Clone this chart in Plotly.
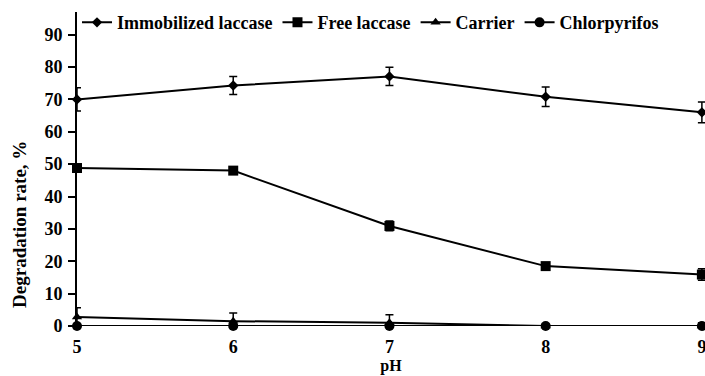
import plotly.graph_objects as go

ph = [5, 6, 7, 8, 9]
immobilized = [70.0, 74.3, 77.1, 70.8, 66.0]
immobilized_err = [3.6, 2.8, 2.8, 3.0, 3.2]
free = [48.8, 48.0, 30.9, 18.5, 15.9]
free_err = [1.2, 1.0, 1.5, 1.0, 1.8]
carrier = [2.8, 1.5, 1.0, 0.0, 0.0]
carrier_err = [2.8, 2.5, 2.5, 0.6, 1.0]
chlorpyrifos = [0.0, 0.0, 0.0, 0.0, 0.0]
chlorpyrifos_err = [0.3, 0.3, 0.3, 0.3, 0.3]

series = [
    ("Immobilized laccase", immobilized, immobilized_err, "diamond", 8),
    ("Free laccase", free, free_err, "square", 10),
    ("Carrier", carrier, carrier_err, "triangle-up", 9),
    ("Chlorpyrifos", chlorpyrifos, chlorpyrifos_err, "circle", 10),
]

fig = go.Figure()
for name, vals, err, sym, size in series:
    fig.add_trace(go.Scatter(
        x=ph, y=vals, name=f"<b>{name}</b>", mode="lines+markers",
        line=dict(color="black", width=2),
        marker=dict(symbol=sym, size=size, color="black"),
        error_y=dict(type="data", array=err, visible=True, color="black", thickness=1.5, width=4),
        cliponaxis=False,
    ))

font_family = "Liberation Serif"
fig.update_layout(
    width=705, height=376,
    margin=dict(l=77, r=0, t=12, b=50),
    paper_bgcolor="white", plot_bgcolor="white",
    font=dict(family=font_family, color="black", size=16),
    showlegend=True,
    legend=dict(orientation="h", x=0.0, y=1.025, xanchor="left", yanchor="top",
                font=dict(family=font_family, size=18, color="black"),
                bgcolor="rgba(0,0,0,0)", itemwidth=30, tracegroupgap=0),
    xaxis=dict(range=[5, 9.02], tickvals=ph, ticktext=[f"<b>{v}</b>" for v in ph],
               showgrid=False, zeroline=False, showline=False, ticks="",
               ticklabelstandoff=8, ticklabeloverflow="allow",
               title=dict(text="<b>pH</b>", font=dict(size=16), standoff=2),
               tickfont=dict(size=18)),
    yaxis=dict(range=[0, 97], tickvals=list(range(0, 100, 10)),
               ticktext=[f"<b>{v}</b>" for v in range(0, 100, 10)],
               showgrid=False, zeroline=False, showline=True, linecolor="black", linewidth=2,
               ticks="outside", ticklen=7, tickwidth=2, tickcolor="black",
               ticklabelstandoff=2,
               tickfont=dict(size=18)),
    annotations=[dict(text="<b>Degradation rate, %</b>", textangle=-90,
                      xref="paper", yref="paper", x=-0.0908, y=0.325,
                      xanchor="center", yanchor="middle", showarrow=False,
                      font=dict(family=font_family, size=19, color="black"))],
)

fig.write_html("out.html")
